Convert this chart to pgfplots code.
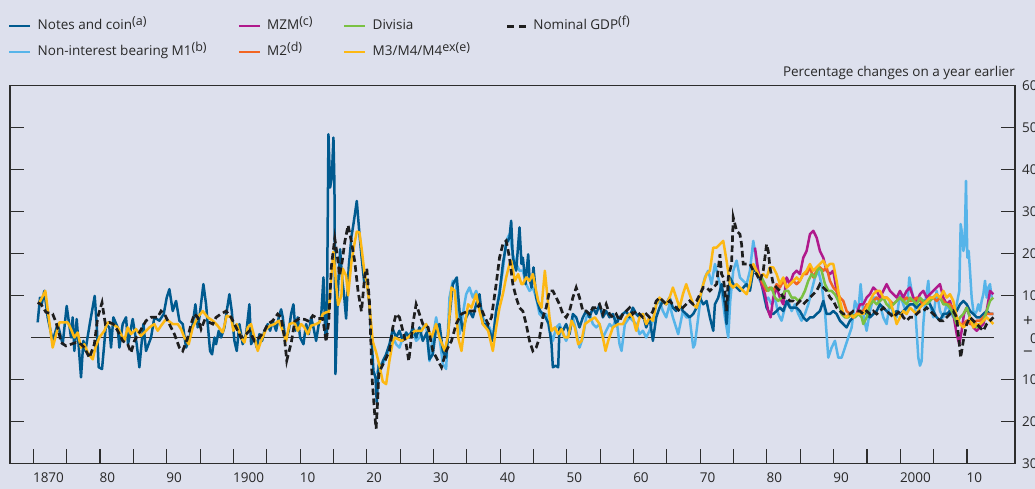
\documentclass[border=0pt]{standalone}
\usepackage{pgfplots}
\pgfplotsset{compat=1.18}
\usepackage{fontspec}
\setmainfont{Open Sans}
\definecolor{bg}{RGB}{221,224,237}
\definecolor{axc}{RGB}{45,45,45}
\definecolor{txc}{RGB}{40,40,40}
\definecolor{cnotes}{RGB}{0,90,143}
\definecolor{cmone}{RGB}{86,180,233}
\definecolor{cmzm}{RGB}{176,25,140}
\definecolor{cmtwo}{RGB}{242,101,34}
\definecolor{cdiv}{RGB}{122,193,67}
\definecolor{cmthree}{RGB}{253,184,19}
\definecolor{cgdp}{RGB}{30,30,30}
\newcommand{\sups}[1]{\raisebox{0.55ex}{\fontsize{12.5}{13}\selectfont #1}}
\pgfplotsset{series/.style={line width=2.5pt, line join=round, forget plot}}
\begin{document}
\fontsize{13.5}{16}\selectfont
\begin{tikzpicture}[x=1pt,y=1pt]
\fill[bg] (0,0) rectangle (1035,489);
\begin{axis}[
  at={(10pt,25.5pt)}, anchor=south west,
  width=1005pt, height=378pt, scale only axis,
  xmin=1866.5, xmax=2017.2, ymin=-30, ymax=60,
  clip mode=individual,
  axis line style={draw=axc, line width=1.1pt},
  axis background/.style={fill=bg},
  xtick={1870,1875,...,2010},
  xticklabels={1870,,80,,90,,1900,,10,,20,,30,,40,,50,,60,,70,,80,,90,,2000,,10},
  xtick pos=bottom,
  ytick={-30,-20,-10,10,20,30,40,50,60},
  yticklabels={30,20,10,10,20,30,40,50,60},
  ytick pos=both, yticklabel pos=right,
  tick align=inside,
  major tick length=14pt,
  xtick style={draw=axc, line width=1.1pt},
  ytick style={draw=axc, line width=1.1pt},
  xticklabel style={anchor=north west, inner sep=0pt, yshift=-9.5pt, xshift=-0.5pt, text=txc},
  yticklabel style={anchor=west, inner sep=0pt, xshift=7pt, text=txc},
  legend columns=4,
  legend cell align=left,
  legend style={at={(axis description cs:0,1)}, anchor=north west, xshift=-2pt, yshift=66pt,
    draw=none, fill=none, inner sep=0pt, column sep=0pt, row sep=13pt,
    nodes={inner sep=0pt, text height=10pt, text depth=3pt, text=txc}},
  legend image code/.code={\draw[#1, line width=2.5pt] (0pt,0pt) -- (21pt,0pt);},
]
\addlegendimage{cnotes}
\addlegendentry{\hspace*{6pt}\makebox[200pt][l]{Notes and coin\sups{(a)}}}
\addlegendimage{cmzm}
\addlegendentry{\hspace*{6pt}\makebox[76pt][l]{MZM\sups{(c)}}}
\addlegendimage{cdiv}
\addlegendentry{\hspace*{6pt}\makebox[133pt][l]{Divisia}}
\addlegendimage{legend image code/.code={\draw[cgdp, line width=2.7pt, dash pattern=on 7pt off 5pt] (0pt,0pt) -- (19pt,0pt);}}
\addlegendentry{\hspace*{6pt}Nominal GDP\sups{(f)}}
\addlegendimage{cmone}
\addlegendentry{\hspace*{6pt}\makebox[200pt][l]{Non-interest bearing M1\sups{(b)}}}
\addlegendimage{cmtwo}
\addlegendentry{\hspace*{6pt}\makebox[76pt][l]{M2\sups{(d)}}}
\addlegendimage{cmthree}
\addlegendentry{\hspace*{6pt}\makebox[133pt][l]{M3/M4/M4\sups{ex(e)}}}

% zero line
\addplot[axc, line width=1pt, forget plot] coordinates {(1869.7,0) (2014.0,0)};

% Non-interest bearing M1
\addplot[cmone, series] coordinates {
(1921.5,-8.7)(1921.9,-6.3)(1922.4,-6.3)(1922.9,-4.8)(1923.4,-2.4)(1923.9,0)(1924.4,-1.6)(1924.9,-2.4)(1925.4,0)(1925.9,0)(1926.4,0.8)(1926.9,1.6)(1927.4,-0.8)(1927.9,0)(1928.4,2.4)(1928.9,3.2)(1929.4,-5.6)(1929.9,0)(1930.4,4.8)(1930.9,0)(1931.4,-6.3)(1931.9,-7.5)(1932.4,9.5)(1932.9,13.5)(1933.4,12.7)(1933.9,0.8)(1934.4,5.6)(1934.9,10.3)(1935.4,11.9)(1935.9,9.5)(1936.4,11.1)(1936.9,8.7)(1937.4,4.8)(1937.9,3.2)(1938.4,2.4)(1938.9,0)(1939.4,6.3)(1939.9,11.1)(1940.4,15.9)(1940.9,23)(1941.4,24.6)(1941.9,19.8)(1942.4,17.5)(1942.9,15.9)(1943.4,15.9)(1943.9,12.7)(1944.4,11.1)(1944.9,11.9)(1945.4,9.5)(1945.9,5.6)(1946.4,4.8)(1946.9,5.6)(1947.4,1.6)(1947.9,-0.8)(1948.4,2.4)(1948.9,3.2)(1949.4,0.8)(1949.9,-0.8)(1950.4,1.6)(1950.9,4.8)(1951.4,1.6)(1951.9,-2.4)(1952.4,0)(1952.9,4.8)(1953.4,5.6)(1953.9,3.2)(1954.4,2.4)(1954.9,3.2)(1955.4,0)(1955.9,1.6)(1956.4,3.2)(1956.9,2.4)(1957.4,4.8)(1957.9,-1.6)(1958.2,-3.2)(1958.7,3.2)(1959.4,4.8)(1959.9,4.0)(1960.4,3.2)(1960.9,0.8)(1961.4,1.6)(1961.9,0)(1962.4,1.6)(1962.9,4.0)(1963.4,7.9)(1963.9,8.7)(1964.4,6.3)(1964.9,4.8)(1965.4,7.9)(1965.9,4.8)(1966.7,0.8)(1967.4,6.3)(1967.9,4.8)(1968.4,4.8)(1968.95,-2.4)(1969.2,-1.6)(1969.7,4.8)(1970.2,11.1)(1970.7,14.3)(1971.2,15.9)(1971.7,12.7)(1972.2,17.5)(1972.7,14.3)(1973.2,11.1)(1973.7,4.8)(1974.2,0)(1974.5,8.7)(1974.95,15.9)(1975.45,18.3)(1975.95,14.3)(1976.45,13.5)(1976.95,12.7)(1977.45,15.9)(1977.95,23)(1978.2,20.6)(1978.7,14.3)(1979.2,12.7)(1979.7,8.7)(1980.2,9.5)(1980.7,7.9)(1981.2,9.5)(1981.7,5.6)(1982.2,4.0)(1982.7,7.1)(1983.2,8.7)(1983.7,6.3)(1984.2,7.9)(1984.7,5.6)(1985.2,4.0)(1985.7,5.6)(1986.2,7.9)(1986.7,11.1)(1987.2,14.3)(1987.7,15.9)(1988.2,12.7)(1988.7,6.3)(1989.2,-4.8)(1989.7,-2.4)(1990.2,-0.8)(1990.7,-4.8)(1991.2,-4.8)(1991.7,-2.4)(1992.2,0)(1992.7,2.4)(1993.2,8.7)(1993.7,6.3)(1994.05,12.7)(1994.5,5)(1994.95,1.6)(1995.45,6.3)(1995.95,9.5)(1996.45,9.5)(1996.95,7.9)(1997.45,4.8)(1997.95,3.2)(1998.45,8.7)(1998.95,5.6)(1999.45,4.8)(1999.95,10.3)(2000.45,7.9)(2000.95,5.6)(2001.35,14.3)(2001.7,11.1)(2002.2,7.9)(2002.7,-4.8)(2002.95,-6.7)(2003.2,-5.6)(2003.45,3.2)(2003.7,7.9)(2004.2,13.5)(2004.45,7.9)(2004.95,4.8)(2005.45,11.1)(2005.95,6.3)(2006.45,4.8)(2006.95,7.9)(2007.45,6.3)(2007.95,4.8)(2008.45,7.9)(2008.85,11.1)(2009.05,27)(2009.2,25.4)(2009.45,20.6)(2009.65,22.2)(2009.85,37.3)(2010.05,19)(2010.25,20.6)(2010.45,15.9)(2010.7,9.5)(2010.95,6.3)(2011.2,5.6)(2011.45,6.3)(2011.7,7.9)(2011.95,6.3)(2012.2,8.7)(2012.45,10.3)(2012.7,13.5)(2012.95,9.5)(2013.2,11.9)(2013.45,12.7)(2013.7,9.5)
};

% Notes and coin
\addplot[cnotes, series] coordinates {
(1870.65,3.6)(1871.0,9.5)(1871.25,7.9)(1871.65,11.1)(1872.15,4.8)(1872.9,-0.8)(1873.65,3.2)(1874.4,-1.6)(1875.0,7.5)(1875.65,0)(1875.9,4.8)(1876.15,-3.2)(1876.5,4.4)(1877.15,-9.5)(1877.5,-0.8)(1877.8,-3.2)(1878.5,3.6)(1879.2,9.9)(1879.5,3.2)(1879.8,-7.1)(1880.3,-7.5)(1880.9,3.2)(1881.4,2.4)(1881.65,-2.4)(1882.0,4.8)(1882.65,2.4)(1882.9,-2.4)(1883.4,3.2)(1883.9,4.8)(1884.2,-1.6)(1884.9,4.4)(1885.5,-1.6)(1885.9,-7.1)(1886.5,3.2)(1886.9,-3.2)(1887.65,0)(1888.15,4.8)(1888.9,4.0)(1889.55,5.6)(1890.0,9.5)(1890.4,11.5)(1890.9,6.3)(1891.4,8.7)(1891.9,4.0)(1892.4,3.2)(1892.9,-2.4)(1893.3,-0.8)(1893.9,3.2)(1894.3,7.9)(1894.65,2.4)(1894.9,4.8)(1895.5,12.7)(1895.9,7.9)(1896.15,3.2)(1896.5,-3.2)(1896.8,-4.0)(1897.15,0)(1897.4,-1.6)(1897.8,1.6)(1898.15,0)(1898.65,2.4)(1899.0,6.3)(1899.4,10.3)(1899.75,6.3)(1900.15,-0.8)(1900.5,-3.2)(1900.9,3.2)(1901.4,-1.6)(1901.9,0.8)(1902.4,7.9)(1902.65,-1.6)(1903.15,0)(1903.5,-2.4)(1903.9,0.8)(1904.3,-0.8)(1904.65,1.6)(1905.15,3.2)(1905.5,1.6)(1905.9,4.0)(1906.4,1.6)(1906.8,4.8)(1907.15,6.7)(1907.4,4.8)(1907.8,-0.8)(1908.3,1.6)(1908.65,5.6)(1909.0,7.9)(1909.3,1.6)(1909.65,4.8)(1910.0,0)(1910.5,-1.6)(1910.9,3.2)(1911.3,0.8)(1911.65,4.8)(1912.0,2.4)(1912.4,-0.8)(1912.8,3.2)(1913.15,4.8)(1913.5,14.3)(1913.8,0)(1914.0,0.8)(1914.25,48.4)(1914.5,35.7)(1914.75,38)(1915.0,47.6)(1915.15,36.5)(1915.3,-8.7)(1915.7,12)(1916.0,21)(1916.3,14)(1916.6,10)(1916.9,4.5)(1917.3,17)(1917.7,24)(1918.0,27)(1918.5,32.5)(1918.9,24.6)(1919.2,19.5)(1919.6,13.3)(1920.0,13.5)(1920.4,7.6)(1920.7,0)(1921.0,-8)(1921.3,-9.5)(1921.5,-15.5)(1921.8,-6.3)(1922.2,-7.1)(1922.4,-5.6)(1922.9,-4.0)(1923.4,-1.6)(1923.9,2.0)(1924.4,0)(1924.9,1.6)(1925.4,-0.8)(1925.9,1.2)(1926.4,0)(1926.9,2.4)(1927.4,0)(1927.9,2.4)(1928.4,-0.8)(1929.0,1.2)(1929.4,-5.2)(1929.9,-4.0)(1930.4,2.4)(1930.9,3.2)(1931.4,-3.2)(1931.9,-4.8)(1932.4,4.8)(1932.9,12.7)(1933.5,14.3)(1933.9,6.3)(1934.4,1.6)(1934.9,4.8)(1935.4,6.3)(1935.9,4.8)(1936.4,7.9)(1936.9,10.3)(1937.4,3.2)(1937.9,3.2)(1938.4,1.6)(1938.9,-0.8)(1939.4,6.3)(1939.9,10.3)(1940.4,17.5)(1940.9,22.2)(1941.4,23.8)(1941.65,27.8)(1941.9,19)(1942.4,15.9)(1942.9,26.2)(1943.2,17.5)(1943.4,19)(1943.8,12.7)(1944.2,19.8)(1944.4,14.3)(1944.7,11.9)(1945.0,16.7)(1945.4,9.5)(1945.7,7.9)(1946.0,6.3)(1946.4,5.6)(1946.8,4.8)(1947.3,3.2)(1947.7,-1.6)(1947.9,-7.1)(1948.3,-6.7)(1948.7,-7.1)(1948.9,2.4)(1949.4,1.6)(1949.9,3.2)(1950.4,0.8)(1950.9,5.6)(1951.4,4.8)(1951.9,2.4)(1952.4,4.8)(1952.9,6.3)(1953.4,4.8)(1953.9,7.1)(1954.4,5.6)(1954.9,7.9)(1955.4,4.8)(1955.9,6.3)(1956.4,4.8)(1956.9,5.6)(1957.4,3.2)(1957.9,4.8)(1958.4,5.6)(1958.9,6.3)(1959.4,4.8)(1959.9,7.1)(1960.4,5.6)(1960.9,4.8)(1961.4,5.6)(1961.9,2.4)(1962.4,4.8)(1962.9,-0.8)(1963.4,4.8)(1963.9,7.1)(1964.4,8.7)(1964.9,7.9)(1965.4,9.5)(1965.9,7.1)(1966.4,6.3)(1966.9,7.9)(1967.4,6.3)(1967.9,5.6)(1968.4,4.8)(1968.95,5.6)(1969.45,7.1)(1969.95,9.5)(1970.45,7.9)(1970.95,8.7)(1971.45,4.8)(1971.95,1.6)(1972.2,7.9)(1972.7,9.5)(1973.2,12.7)(1973.7,7.9)(1973.95,3.2)(1974.45,14.3)(1974.95,12.7)(1975.45,11.9)(1975.95,11.1)(1976.45,11.9)(1976.95,12.7)(1977.45,11.1)(1977.95,15.9)(1978.45,15.9)(1978.95,14.3)(1979.45,11.1)(1979.95,7.1)(1980.45,5.6)(1980.95,5.6)(1981.45,6.3)(1981.95,7.1)(1982.45,6.3)(1982.95,8.7)(1983.45,7.1)(1983.95,7.1)(1984.45,7.1)(1984.95,6.3)(1985.45,4.8)(1985.95,4.0)(1986.45,4.8)(1986.95,4.8)(1987.45,5.6)(1987.95,6.3)(1988.45,8.7)(1988.95,5.6)(1989.45,5.6)(1989.95,6.3)(1990.45,5.6)(1990.95,4.0)(1991.45,3.2)(1991.95,2.4)(1992.45,4.0)(1992.95,4.8)(1993.45,5.6)(1993.95,6.3)(1994.45,6.3)(1994.95,5.6)(1995.45,4.8)(1995.95,5.6)(1996.45,6.3)(1996.95,7.9)(1997.45,7.1)(1997.95,6.3)(1998.45,5.6)(1998.95,5.6)(1999.45,6.3)(1999.95,5.6)(2000.45,6.3)(2000.95,7.1)(2001.45,7.9)(2001.95,7.9)(2002.45,7.1)(2002.95,7.9)(2003.45,8.7)(2003.95,8.7)(2004.45,7.9)(2004.95,6.3)(2005.45,4.8)(2005.95,4.0)(2006.45,5.6)(2006.95,5.6)(2007.45,6.3)(2007.95,5.6)(2008.45,6.3)(2008.95,7.9)(2009.45,8.7)(2009.95,7.9)(2010.45,6.3)(2010.95,5.6)(2011.45,4.8)(2011.95,4.8)(2012.45,5.6)(2012.95,6.3)(2013.45,5.6)(2013.95,5.6)
};

% MZM
\addplot[cmzm, series] coordinates {
(1978.2,21.4)(1978.7,15.9)(1979.2,12.7)(1979.7,10.3)(1980.2,6.3)(1980.55,4.8)(1980.95,9.5)(1981.45,11.9)(1981.95,9.5)(1982.45,7.9)(1982.95,14.3)(1983.45,12.7)(1983.95,15.1)(1984.45,15.9)(1984.95,15.1)(1985.45,19)(1985.95,20.6)(1986.45,24.6)(1986.95,25.4)(1987.45,23.8)(1987.95,20.6)(1988.45,19)(1988.95,15.9)(1989.45,15.1)(1989.95,15.9)(1990.45,11.1)(1990.95,7.1)(1991.45,5.6)(1991.95,4.8)(1992.45,5.6)(1992.95,4.8)(1993.45,5.6)(1993.95,7.9)(1994.45,7.9)(1994.95,9.5)(1995.45,10.3)(1995.95,11.9)(1996.45,11.1)(1996.95,9.5)(1997.45,11.1)(1997.95,12.7)(1998.45,11.1)(1998.95,10.3)(1999.45,9.5)(1999.95,11.1)(2000.45,9.5)(2000.95,11.1)(2001.45,11.9)(2001.95,9.5)(2002.45,8.7)(2002.95,10.3)(2003.45,11.1)(2003.95,9.5)(2004.45,10.3)(2004.95,11.1)(2005.45,11.9)(2005.95,12.7)(2006.45,9.5)(2006.95,7.9)(2007.45,8.7)(2007.95,5.6)(2008.45,0.8)(2008.85,-1.6)(2009.2,1.6)(2009.55,5.6)(2009.95,7.1)(2010.45,4.8)(2010.95,2.4)(2011.45,1.6)(2011.95,2.4)(2012.45,3.2)(2012.95,6.3)(2013.45,11.1)(2013.95,10.3)
};

% M2
\addplot[cmtwo, series] coordinates {
(1978.95,14.3)(1979.45,12.7)(1979.95,11.1)(1980.45,11.9)(1980.95,11.1)(1981.45,12.7)(1981.95,11.9)(1982.45,13.5)(1982.95,11.9)(1983.45,12.7)(1983.95,13.5)(1984.45,12.7)(1984.95,13.5)(1985.45,15.1)(1985.95,15.1)(1986.45,16.7)(1986.95,14.3)(1987.45,15.9)(1987.95,16.7)(1988.45,15.9)(1988.95,16.7)(1989.45,13.5)(1989.95,11.9)(1990.45,11.1)(1990.95,9.5)(1991.45,8.7)(1991.95,6.3)(1992.45,5.6)(1992.95,4.8)(1993.45,5.6)(1993.95,6.3)(1994.45,6.3)(1994.95,7.9)(1995.45,7.9)(1995.95,8.7)(1996.45,9.5)(1996.95,8.7)(1997.45,9.5)(1997.95,9.5)(1998.45,8.7)(1998.95,7.9)(1999.45,8.7)(1999.95,9.5)(2000.45,8.7)(2000.95,9.5)(2001.45,8.7)(2001.95,8.7)(2002.45,9.5)(2002.95,8.7)(2003.45,7.9)(2003.95,8.7)(2004.45,9.5)(2004.95,9.5)(2005.45,8.7)(2005.95,9.5)(2006.45,8.7)(2006.95,7.9)(2007.45,7.9)(2007.95,7.1)(2008.45,4.8)(2008.95,3.2)(2009.45,3.2)(2009.95,4.0)(2010.45,3.2)(2010.95,3.2)(2011.45,4.0)(2011.95,4.0)(2012.45,4.8)(2012.95,5.6)(2013.45,5.6)(2013.95,5.6)
};

% Divisia
\addplot[cdiv, series] coordinates {
(1979.2,14.3)(1979.7,12.7)(1980.2,11.1)(1980.7,11.9)(1981.2,9.5)(1981.7,8.7)(1982.2,9.5)(1982.7,11.1)(1983.2,11.1)(1983.7,9.5)(1984.2,9.5)(1984.7,8.7)(1985.2,9.5)(1985.7,11.1)(1986.2,13.5)(1986.7,15.1)(1987.2,14.3)(1987.7,16.7)(1988.2,15.9)(1988.7,12.7)(1989.2,11.1)(1989.7,11.1)(1990.2,10.3)(1990.7,8.7)(1991.2,5.6)(1991.7,4.8)(1992.2,4.8)(1992.7,5.6)(1993.2,4.8)(1993.7,5.6)(1994.2,4.8)(1994.45,3.2)(1994.95,4.8)(1995.45,7.9)(1995.95,8.7)(1996.45,7.9)(1996.95,8.7)(1997.45,9.5)(1997.95,7.9)(1998.45,7.1)(1998.95,7.9)(1999.45,8.7)(1999.95,9.5)(2000.45,8.7)(2000.95,7.9)(2001.45,9.5)(2001.95,8.7)(2002.45,7.9)(2002.95,9.5)(2003.45,8.7)(2003.95,7.9)(2004.45,8.7)(2004.95,9.5)(2005.45,10.3)(2005.95,9.5)(2006.45,7.9)(2006.95,7.9)(2007.45,7.1)(2007.95,5.6)(2008.45,3.2)(2008.95,4.8)(2009.45,5.6)(2009.95,7.1)(2010.45,4.8)(2010.95,3.2)(2011.45,2.4)(2011.95,3.2)(2012.45,4.0)(2012.95,6.3)(2013.45,8.7)(2013.95,9.5)
};

% M3/M4/M4ex
\addplot[cmthree, series] coordinates {
(1870.8,7.9)(1871.8,11.1)(1872.3,4.8)(1872.9,-2.4)(1873.3,0)(1873.9,3.6)(1875.15,3.6)(1875.65,2.0)(1876.15,0)(1876.65,1.2)(1877.15,-2.4)(1877.65,-1.6)(1878.15,-3.6)(1878.9,-5.2)(1879.3,-2.4)(1879.9,0)(1880.65,1.6)(1881.15,3.6)(1881.9,3.2)(1882.65,2.4)(1883.15,0.8)(1883.65,-0.8)(1884.15,2.4)(1884.65,0.8)(1885.4,2.0)(1886.15,0.4)(1886.9,1.6)(1887.4,2.4)(1888.15,3.2)(1888.65,1.6)(1889.15,2.8)(1889.9,4.4)(1890.9,3.2)(1891.65,3.2)(1892.15,2.0)(1892.65,0)(1893.3,-1.6)(1893.9,2.4)(1894.65,4.8)(1895.4,6.3)(1896.15,4.8)(1896.9,4.0)(1897.65,2.8)(1898.4,1.2)(1899.0,5.2)(1899.65,4.8)(1900.0,1.6)(1900.5,3.2)(1901.15,0)(1901.65,-1.2)(1902.15,2.4)(1902.65,3.2)(1903.15,0)(1903.65,-3.2)(1904.15,-0.8)(1904.9,2.0)(1905.5,2.8)(1906.15,3.2)(1906.8,4.0)(1907.4,1.6)(1907.9,-0.8)(1908.4,3.2)(1909.15,3.6)(1909.65,1.6)(1910.15,3.2)(1910.65,2.4)(1911.15,0.8)(1911.65,2.8)(1912.4,3.2)(1912.9,3.6)(1913.4,5.6)(1913.9,6.0)(1914.3,6.1)(1914.7,14.7)(1915.0,20.4)(1915.4,12.7)(1915.7,7.7)(1916.2,10)(1916.4,16.4)(1916.9,14.7)(1917.2,10)(1917.7,18)(1918.2,22.8)(1918.5,25.2)(1918.9,25)(1919.2,21.5)(1919.7,14.8)(1920.0,13.3)(1920.4,7.7)(1920.9,-1)(1921.4,-3.5)(1921.9,-6.7)(1922.4,-10.5)(1922.9,-11.1)(1923.4,-5.5)(1923.9,-1)(1924.2,0)(1925.2,-0.8)(1926.2,0)(1927.2,1.6)(1928.2,1.6)(1928.9,3.2)(1929.7,0)(1930.4,3.2)(1930.9,0)(1931.7,-3.2)(1932.2,0.8)(1932.7,11.9)(1933.2,11.1)(1933.7,0)(1934.2,-3.2)(1934.7,3.2)(1935.2,7.9)(1935.7,7.1)(1936.4,10.3)(1936.9,6.3)(1937.4,3.2)(1938.2,1.6)(1938.9,-3.2)(1939.4,2.4)(1939.9,7.1)(1940.4,10.3)(1940.9,14.3)(1941.4,17.5)(1941.65,18.3)(1942.2,13.5)(1942.7,15.1)(1943.2,12.7)(1943.4,12.7)(1943.9,14.3)(1944.4,13.5)(1944.9,15.1)(1945.2,12.7)(1945.7,8.7)(1946.2,7.1)(1946.7,15.9)(1947.0,11.1)(1947.4,4.8)(1947.7,1.6)(1948.2,2.4)(1948.7,0.8)(1949.2,2.0)(1949.7,0)(1950.2,0)(1950.7,4.0)(1951.2,2.4)(1951.7,-1.6)(1952.2,-0.8)(1952.7,3.2)(1953.4,4.0)(1954.2,4.8)(1954.9,3.2)(1955.4,0)(1955.8,-3.2)(1956.2,-0.8)(1956.9,2.4)(1957.7,3.2)(1958.4,3.2)(1958.9,4.8)(1959.4,5.6)(1959.9,4.8)(1960.4,1.6)(1960.9,4.8)(1961.4,5.6)(1961.9,3.2)(1962.4,4.8)(1962.9,4.0)(1963.4,7.9)(1963.9,9.5)(1964.4,8.7)(1964.9,7.9)(1965.4,9.5)(1965.9,11.9)(1966.4,9.5)(1966.9,7.1)(1967.4,10.3)(1967.9,12.7)(1968.4,10.3)(1968.95,7.9)(1969.45,7.1)(1969.95,9.5)(1970.45,12.7)(1970.95,15.1)(1971.45,15.9)(1971.95,21.4)(1972.45,21.4)(1972.95,22.2)(1973.45,23)(1973.95,18.3)(1974.45,12.7)(1974.95,11.9)(1975.45,12.7)(1975.95,11.9)(1976.45,11.1)(1976.95,10.3)(1977.45,12.7)(1977.95,17.5)(1978.45,15.9)(1978.95,14.3)(1979.45,15.1)(1979.95,14.3)(1980.45,16.7)(1980.95,16.7)(1981.45,15.1)(1981.95,12.7)(1982.45,14.3)(1982.95,11.9)(1983.45,12.7)(1983.95,13.5)(1984.45,14.3)(1984.95,13.5)(1985.45,15.1)(1985.95,15.9)(1986.45,17.5)(1986.95,15.9)(1987.45,16.7)(1987.95,17.5)(1988.45,18.3)(1988.95,16.7)(1989.45,17.5)(1989.95,17.5)(1990.45,13.5)(1990.95,8.7)(1991.45,5.6)(1991.95,4.8)(1992.45,5.6)(1992.95,4.8)(1993.45,5.6)(1993.95,5.6)(1994.45,5.6)(1994.95,7.1)(1995.45,8.7)(1995.95,10.3)(1996.45,11.1)(1996.95,11.1)(1997.45,9.5)(1997.95,9.5)(1998.45,8.7)(1998.95,6.3)(1999.45,3.2)(1999.95,4.8)(2000.45,6.3)(2000.95,5.6)(2001.45,7.1)(2001.95,6.3)(2002.45,5.6)(2002.95,7.1)(2003.45,7.9)(2003.95,8.7)(2004.45,9.5)(2004.95,9.5)(2005.45,10.3)(2005.95,9.5)(2006.45,11.1)(2006.95,9.5)(2007.45,10.3)(2007.95,8.7)(2008.45,4.8)(2008.95,3.2)(2009.45,2.4)(2009.95,3.2)(2010.45,4.8)(2010.95,2.4)(2011.45,3.2)(2011.95,3.2)(2012.45,4.0)(2012.95,4.8)(2013.45,4.0)(2013.95,3.2)
};

% Nominal GDP
\addplot[cgdp, line width=2.7pt, dash pattern=on 6.5pt off 3.5pt, forget plot] coordinates {
(1870.65,8.3)(1871.15,7.9)(1871.9,6.0)(1872.9,5.6)(1873.4,3.6)(1873.9,0.8)(1874.15,-1.2)(1874.9,-2.0)(1875.65,-1.6)(1876.4,-1.2)(1877.15,-1.6)(1877.65,-2.4)(1878.4,-4.8)(1879.15,-1.6)(1879.65,4.8)(1880.3,8.3)(1880.8,3.2)(1881.4,3.6)(1882.0,3.2)(1882.65,1.6)(1883.4,-0.8)(1884.15,-1.6)(1884.65,-3.6)(1885.15,-0.8)(1885.9,1.2)(1886.9,4.0)(1887.65,4.8)(1888.65,4.8)(1889.15,6.3)(1889.65,5.6)(1890.4,3.2)(1891.15,0.8)(1891.9,-2.4)(1892.4,-3.2)(1893.15,0)(1893.65,3.2)(1894.15,5.6)(1894.65,4.8)(1895.15,2.0)(1895.65,4.0)(1896.4,3.6)(1896.9,3.2)(1897.4,4.8)(1898.15,5.6)(1898.9,6.3)(1899.65,4.8)(1900.15,3.2)(1900.65,1.6)(1901.15,0)(1901.9,0.8)(1902.4,1.6)(1903.15,-0.8)(1903.9,0)(1904.65,1.6)(1905.15,3.2)(1905.9,4.0)(1906.65,5.6)(1907.15,4.8)(1907.65,0)(1908.0,-5.5)(1908.7,-1)(1909.2,3.8)(1909.9,4.5)(1910.7,4.3)(1911.4,3.8)(1911.9,5.2)(1912.7,4.5)(1913.4,4.5)(1913.9,-1)(1914.3,3.8)(1914.7,17.1)(1915.2,23.6)(1915.7,18)(1915.9,14.8)(1916.3,18)(1916.7,22.8)(1917.2,26.7)(1917.7,22.8)(1918.2,18)(1918.7,10.9)(1919.2,6.2)(1919.7,14.8)(1920.0,16.4)(1920.4,8.6)(1920.8,-9.8)(1921.2,-18.6)(1921.4,-21.7)(1921.6,-15.9)(1921.8,-8.7)(1922.2,-7.1)(1922.7,-5.6)(1923.4,-3.2)(1923.9,2.4)(1924.4,5.6)(1924.9,4.8)(1925.4,1.6)(1925.9,-1.6)(1926.3,-5.6)(1926.9,3.2)(1927.4,7.9)(1927.9,5.6)(1928.4,3.2)(1929.2,2.4)(1929.9,-3.2)(1930.7,-5.6)(1931.2,-7.1)(1931.9,-3.2)(1932.7,-0.8)(1933.4,3.2)(1934.2,5.6)(1935.2,6.3)(1936.2,6.3)(1936.9,7.9)(1937.7,4.8)(1938.2,3.2)(1938.7,4.8)(1939.4,12.7)(1939.9,19)(1940.4,22.2)(1940.9,23)(1941.4,19)(1941.9,12.7)(1942.4,9.5)(1942.9,7.1)(1943.4,6.3)(1943.9,3.2)(1944.4,-0.8)(1944.9,-3.2)(1945.4,-2.4)(1945.9,0)(1946.4,4.8)(1946.9,7.1)(1947.4,11.1)(1947.9,11.1)(1948.4,9.5)(1948.9,7.9)(1949.4,5.6)(1949.9,4.8)(1950.4,6.3)(1950.9,9.5)(1951.4,11.9)(1951.9,9.5)(1952.4,6.3)(1952.9,6.3)(1953.4,5.6)(1953.9,7.1)(1954.4,7.1)(1954.9,7.9)(1955.4,5.6)(1955.9,7.9)(1956.4,5.6)(1956.9,4.8)(1957.4,5.6)(1957.9,4.0)(1958.4,5.6)(1958.9,6.3)(1959.4,7.1)(1959.9,5.6)(1960.4,6.3)(1960.9,5.6)(1961.4,4.8)(1961.9,5.6)(1962.4,4.8)(1962.9,6.3)(1963.4,8.7)(1963.9,9.5)(1964.4,8.7)(1964.9,7.9)(1965.4,8.7)(1965.9,7.9)(1966.4,7.1)(1966.9,6.3)(1967.4,7.1)(1967.9,7.9)(1968.4,8.7)(1968.95,7.9)(1969.45,8.7)(1969.95,10.3)(1970.45,11.9)(1970.95,11.9)(1971.45,11.1)(1971.95,11.9)(1972.45,12.7)(1972.95,19.8)(1973.2,15.1)(1973.45,14.3)(1973.7,11.1)(1973.95,6.3)(1974.2,14.3)(1974.45,15.9)(1974.7,17.5)(1974.95,28.6)(1975.2,27)(1975.45,25.4)(1975.95,24.6)(1976.2,22.2)(1976.45,17.5)(1976.95,17.5)(1977.45,17.5)(1977.95,15.9)(1978.45,15.1)(1978.95,13.5)(1979.45,15.9)(1979.95,22.2)(1980.2,20.6)(1980.45,16.7)(1980.95,12.7)(1981.45,11.9)(1981.95,11.1)(1982.45,9.5)(1982.95,9.5)(1983.45,8.7)(1983.95,8.7)(1984.45,7.9)(1984.95,8.7)(1985.45,7.9)(1985.95,8.7)(1986.45,9.5)(1986.95,10.3)(1987.45,11.1)(1987.95,12.7)(1988.45,11.9)(1988.95,11.1)(1989.45,9.5)(1989.95,8.7)(1990.45,7.1)(1990.95,6.3)(1991.45,5.6)(1991.95,5.6)(1992.45,5.6)(1992.95,6.3)(1993.45,6.3)(1993.95,6.3)(1994.45,5.6)(1994.95,6.3)(1995.45,5.6)(1995.95,6.3)(1996.45,5.6)(1996.95,6.3)(1997.45,7.1)(1997.95,6.3)(1998.45,5.6)(1998.95,4.8)(1999.45,5.6)(1999.95,6.3)(2000.45,4.8)(2000.95,4.0)(2001.45,4.8)(2001.95,4.8)(2002.45,5.6)(2002.95,6.3)(2003.45,6.3)(2003.95,7.1)(2004.45,6.3)(2004.95,5.6)(2005.45,4.8)(2005.95,4.0)(2006.45,4.0)(2006.95,4.8)(2007.45,5.6)(2007.95,6.3)(2008.45,4.8)(2008.85,-1.6)(2009.05,-4.8)(2009.45,-0.8)(2009.95,3.2)(2010.45,4.8)(2010.95,4.0)(2011.45,3.2)(2011.95,2.4)(2012.45,1.6)(2012.95,3.2)(2013.45,4.0)(2013.95,4.8)
};

\node[anchor=base east, inner sep=0pt, text=txc, yshift=8.5pt] at (axis description cs:1,1) {Percentage changes on a year earlier};
\node[anchor=west, inner sep=0pt, text=txc, xshift=8pt, yshift=16.5pt] at (axis description cs:1,0.33333) {\fontsize{17}{17}\selectfont +};
\node[anchor=west, inner sep=0pt, text=txc, xshift=15pt, yshift=-1.5pt] at (axis description cs:1,0.33333) {0};
\node[anchor=west, inner sep=0pt, text=txc, xshift=8pt, yshift=-17pt] at (axis description cs:1,0.33333) {\fontsize{17}{17}\selectfont −};
\end{axis}
\pgfresetboundingbox
\path (0,0) rectangle (1035,489);
\end{tikzpicture}
\end{document}
